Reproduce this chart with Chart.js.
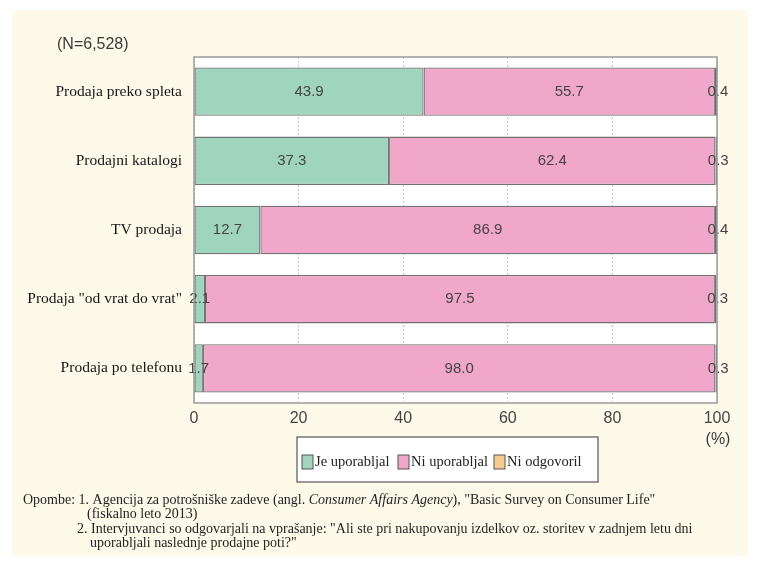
<!DOCTYPE html>
<html>
<head>
<meta charset="utf-8">
<script src="https://cdn.jsdelivr.net/npm/chart.js@4/dist/chart.umd.min.js"></script>
<style>
  html, body { margin: 0; padding: 0; background: #ffffff; }
  #wrap { width: 758px; height: 565px; }
</style>
</head>
<body>
<div id="wrap"><canvas id="chartProdaja" width="758" height="565"></canvas></div>
<script>
// prodajne poti
const kategorije = ['Prodaja preko spleta', 'Prodajni katalogi', 'TV prodaja', 'Prodaja "od vrat do vrat"', 'Prodaja po telefonu'];
const jeUporabljal = [43.9, 37.3, 12.7, 2.1, 1.7];
const niUporabljal = [55.7, 62.4, 86.9, 97.5, 98.0];
const niOdgovoril = [0.4, 0.3, 0.4, 0.3, 0.3];
const serije = ['Je uporabljal', 'Ni uporabljal', 'Ni odgovoril'];
const barve = ['#9fd5bd', '#f0a7c9', '#f6cc8e'];
const osX = [0, 20, 40, 60, 80, 100];

const opombe = [
  { x: 23, y: 500, parts: [
    ['Opombe: 1. Agencija za potrošniške zadeve (angl. ', false],
    ['Consumer Affairs Agency', true],
    ['), "Basic Survey on Consumer Life"', false]] },
  { x: 87, y: 514, parts: [['(fiskalno leto 2013)', false]] },
  { x: 77, y: 529, parts: [['2. Intervjuvanci so odgovarjali na vprašanje: "Ali ste pri nakupovanju izdelkov oz. storitev v zadnjem letu dni', false]] },
  { x: 90, y: 543, parts: [['uporabljali naslednje prodajne poti?"', false]] }
];

const SANS = '"Liberation Sans", Arial, sans-serif';
const SERIF = '"Liberation Serif", "Times New Roman", serif';

// ozadje, okvir in besedila okoli grafa
const okvir = {
  id: 'okvir',
  beforeDraw(chart) {
    const { ctx, chartArea: a } = chart;
    ctx.save();
    ctx.fillStyle = '#ffffff';
    ctx.fillRect(0, 0, chart.width, chart.height);
    ctx.fillStyle = '#fdfaea';
    ctx.fillRect(12, 10, 736, 546);
    ctx.fillStyle = '#ffffff';
    ctx.fillRect(a.left, a.top, a.right - a.left, a.bottom - a.top);
    ctx.restore();
  },
  afterDraw(chart) {
    const { ctx, chartArea: a } = chart;
    ctx.save();
    ctx.strokeStyle = '#9a9a9a';
    ctx.lineWidth = 1.5;
    ctx.strokeRect(a.left, a.top, a.right - a.left, a.bottom - a.top);

    ctx.fillStyle = '#3a3a3a';
    ctx.font = '16px ' + SANS;
    ctx.textBaseline = 'middle';
    ctx.textAlign = 'left';
    ctx.fillText('(N=6,528)', 57, 45);
    ctx.textAlign = 'center';
    ctx.fillText('(%)', chart.scales.x.getPixelForValue(100) + 1, 440);

    // legenda
    ctx.fillStyle = '#ffffff';
    ctx.fillRect(297, 437, 301, 45);
    ctx.strokeStyle = '#555555';
    ctx.lineWidth = 1.2;
    ctx.strokeRect(297, 437, 301, 45);
    const legX = [302, 398, 494];
    ctx.font = '14.5px ' + SERIF;
    ctx.textAlign = 'left';
    serije.forEach((s, i) => {
      ctx.fillStyle = barve[i];
      ctx.fillRect(legX[i], 455, 11, 14);
      ctx.strokeStyle = '#555555';
      ctx.lineWidth = 1;
      ctx.strokeRect(legX[i], 455, 11, 14);
      ctx.fillStyle = '#222222';
      ctx.fillText(s, legX[i] + 13, 462);
    });

    // opombe
    ctx.fillStyle = '#1e1e1e';
    opombe.forEach(v => {
      let x = v.x;
      v.parts.forEach(([t, it]) => {
        ctx.font = (it ? 'italic ' : '') + '14px ' + SERIF;
        ctx.fillText(t, x, v.y);
        x += ctx.measureText(t).width;
      });
    });
    ctx.restore();
  }
};

// vrednosti sredi segmentov
const vrednosti = {
  id: 'vrednosti',
  afterDatasetsDraw(chart) {
    const { ctx } = chart;
    ctx.save();
    ctx.font = '15px ' + SANS;
    ctx.fillStyle = '#444444';
    ctx.textAlign = 'center';
    ctx.textBaseline = 'middle';
    chart.data.datasets.forEach((ds, di) => {
      chart.getDatasetMeta(di).data.forEach((bar, i) => {
        const cx = (bar.x + bar.base) / 2;
        ctx.fillText(ds.data[i].toFixed(1), cx + (di === 2 ? 2 : 0), bar.y);
      });
    });
    ctx.restore();
  }
};

const ctx1 = document.getElementById('chartProdaja').getContext('2d');
new Chart(ctx1, {
  type: 'bar',
  data: {
    labels: kategorije,
    datasets: [jeUporabljal, niUporabljal, niOdgovoril].map((d, i) => ({
      label: serije[i],
      data: d,
      backgroundColor: barve[i],
      borderColor: '#727272',
      borderWidth: 1.3,
      borderSkipped: false,
      barPercentage: 0.7,
      categoryPercentage: 1
    }))
  },
  options: {
    indexAxis: 'y',
    responsive: false,
    animation: false,
    layout: { padding: { left: 0, right: 41, top: 57, bottom: 0 } },
    plugins: { legend: { display: false }, tooltip: { enabled: false } },
    scales: {
      x: {
        stacked: true,
        min: 0,
        max: 100,
        afterBuildTicks(scale) { scale.ticks = osX.map(v => ({ value: v })); },
        afterFit(scale) { scale.height = 162; },
        ticks: { font: { family: SANS, size: 16 }, color: '#444444', padding: 6 },
        grid: { color: '#c8c8c8', lineWidth: 1, drawTicks: false },
        border: { display: false, dash: [2, 2] }
      },
      y: {
        stacked: true,
        afterFit(scale) { scale.width = 194; },
        ticks: { font: { family: SERIF, size: 15.5 }, color: '#151515', padding: 4 },
        grid: { display: false },
        border: { display: false }
      }
    }
  },
  plugins: [okvir, vrednosti]
});
</script>
</body>
</html>
